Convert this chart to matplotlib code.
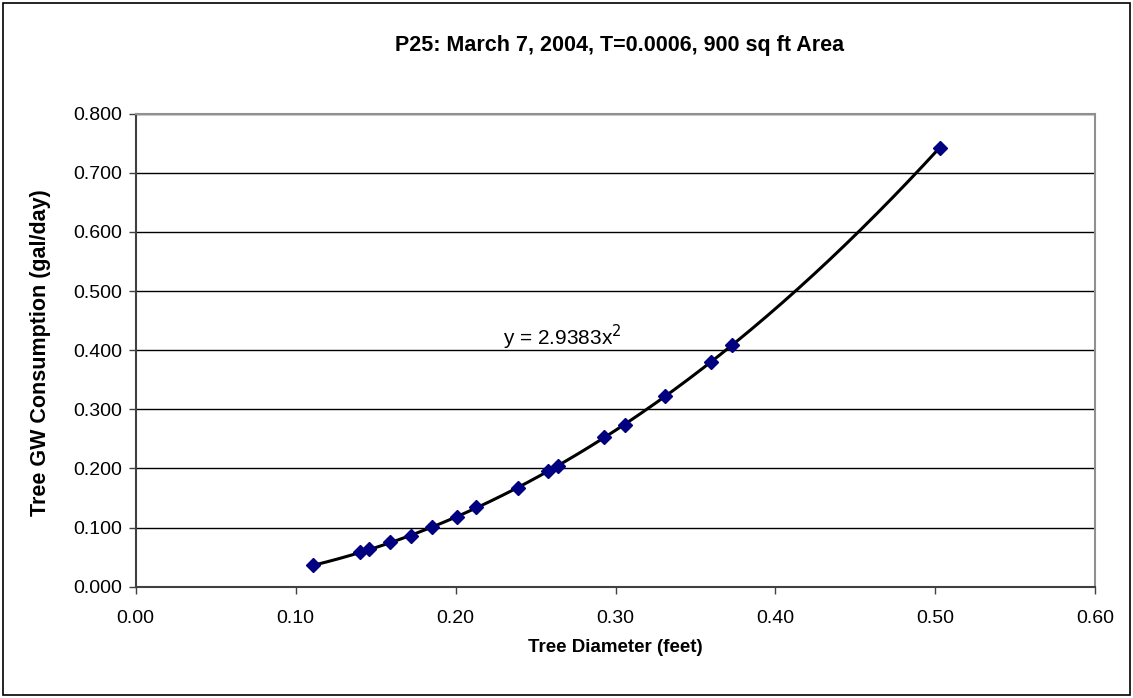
import numpy as np
import matplotlib.pyplot as plt
from matplotlib.patches import Rectangle

plt.rcParams['font.family'] = ['Liberation Sans', 'DejaVu Sans']

# tree diameter (feet) and groundwater consumption (gal/day)
diameter = [0.111, 0.140, 0.146, 0.159, 0.172, 0.185, 0.201, 0.213, 0.239,
            0.258, 0.264, 0.293, 0.306, 0.331, 0.360, 0.373, 0.503]
consumption = [0.037, 0.058, 0.063, 0.075, 0.086, 0.101, 0.118, 0.134, 0.167,
               0.196, 0.204, 0.254, 0.274, 0.323, 0.380, 0.409, 0.742]

# power trendline coefficient shown on the chart
trend_coef = 2.9383

x_ticks = [0.0, 0.1, 0.2, 0.3, 0.4, 0.5, 0.6]
y_ticks = [0.0, 0.1, 0.2, 0.3, 0.4, 0.5, 0.6, 0.7, 0.8]

W, H = 1133, 698
fig = plt.figure(figsize=(W / 100, H / 100), dpi=100)
ax = fig.add_axes([0.1198, 0.1595, 0.8469, 0.6776])

# outer chart border
fig.patches.append(Rectangle((0.003, 0.004), 0.994, 0.992, transform=fig.transFigure,
                             fill=False, edgecolor='black', linewidth=1.2))

# trendline through origin
xt = np.linspace(min(diameter), max(diameter), 200)
ax.plot(xt, trend_coef * xt ** 2, color='black', linewidth=2.2, zorder=2)

ax.plot(diameter, consumption, linestyle='none', marker='D', markersize=7,
        color='#000080', markeredgecolor='#000080', zorder=3)

ax.text(0.2666, 0.421, 'y = 2.9383x$^{2}$', fontsize=15, ha='center', va='center')

ax.set_xlim(0, 0.6)
ax.set_ylim(0, 0.8)
ax.set_xticks(x_ticks)
ax.set_yticks(y_ticks)
ax.set_xticklabels(['%.2f' % v for v in x_ticks])
ax.set_yticklabels(['%.3f' % v for v in y_ticks])
ax.tick_params(axis='both', labelsize=14, length=5, width=1, direction='out', color='#404040')
ax.tick_params(axis='x', pad=12)
ax.tick_params(axis='y', pad=5)

ax.yaxis.grid(True, color='black', linewidth=1)
ax.set_axisbelow(True)

for side in ['left', 'bottom']:
    ax.spines[side].set_color('#404040')
    ax.spines[side].set_linewidth(1.5)
for side in ['top', 'right']:
    ax.spines[side].set_color('#909090')
    ax.spines[side].set_linewidth(1.5)

fig.text(615 / W, 1 - 647 / H, 'Tree Diameter (feet)', fontsize=13.5,
         fontweight='bold', ha='center', va='center')
fig.text(41 / W, 1 - 353 / H, 'Tree GW Consumption (gal/day)', fontsize=15.5,
         fontweight='bold', ha='center', va='center', rotation=90)
fig.text(620 / W, 1 - 45 / H, 'P25: March 7, 2004, T=0.0006, 900 sq ft Area',
         fontsize=15.5, fontweight='bold', ha='center', va='center')

fig.savefig('out.png', dpi=100)
